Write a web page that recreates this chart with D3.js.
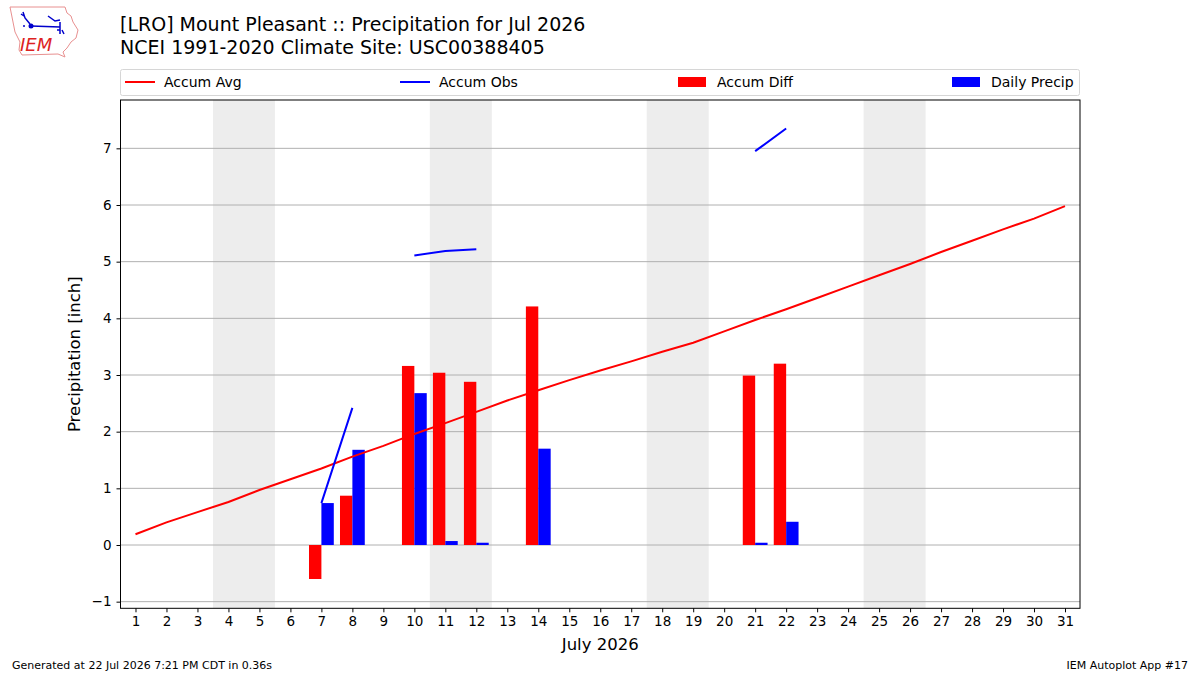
<!DOCTYPE html>
<html><head><meta charset="utf-8">
<script src="https://cdn.jsdelivr.net/npm/d3@7"></script>
<style>body{margin:0;background:#fff;} text{font-family:"DejaVu Sans",sans-serif;}</style>
</head><body><svg id="c" width="1200" height="675"></svg>
<script>
const days = d3.range(1, 32);
const accumAvg = [0.19,0.40,0.58,0.76,0.97,1.16,1.35,1.56,1.75,1.96,2.15,2.35,2.55,2.73,2.91,3.08,3.24,3.41,3.57,3.77,3.97,4.16,4.36,4.56,4.76,4.96,5.17,5.37,5.57,5.76,5.98];
const accumObs = [null,null,null,null,null,null,0.74,2.42,null,5.11,5.19,5.22,null,6.93,null,null,null,null,null,null,6.95,7.35,null,null,null,null,null,null,null,null,null];
const accumDiff = [null,null,null,null,null,null,-0.60,0.87,null,3.16,3.04,2.88,null,4.21,null,null,null,null,null,null,2.99,3.20,null,null,null,null,null,null,null,null,null];
const dailyPrecip = [null,null,null,null,null,null,0.74,1.68,null,2.68,0.07,0.04,null,1.70,null,null,null,null,null,null,0.04,0.41,null,null,null,null,null,null,null,null,null];
const weekends = [[3.5,5.5],[10.5,12.5],[17.5,19.5],[24.5,26.5]];
const yTicks = [-1,0,1,2,3,4,5,6,7];
const titleLines = ["[LRO] Mount Pleasant :: Precipitation for Jul 2026","NCEI 1991-2020 Climate Site: USC00388405"];
const legendItems = [{name:"Accum Avg",type:"line",color:"red"},{name:"Accum Obs",type:"line",color:"blue"},{name:"Accum Diff",type:"rect",color:"red"},{name:"Daily Precip",type:"rect",color:"blue"}];

const svg = d3.select("#c");
const L=120.5, R=1080, T=100, B=608.3;
const x = d3.scaleLinear().domain([0.516,31.484]).range([L,R]);
const y = d3.scaleLinear().domain([-1.117,7.853]).range([B,T]);
const bw = 0.4;

// weekend shading
svg.append("g").selectAll("rect").data(weekends).join("rect")
  .attr("x",d=>x(d[0])).attr("width",d=>x(d[1])-x(d[0]))
  .attr("y",T).attr("height",B-T).attr("fill","#ededed");

// grid
svg.append("g").selectAll("line").data(yTicks).join("line")
  .attr("x1",L).attr("x2",R).attr("y1",d=>y(d)).attr("y2",d=>y(d))
  .attr("stroke","#b0b0b0").attr("stroke-width",1);

// bars
const diffData = days.map((d,i)=>({d,v:accumDiff[i]})).filter(o=>o.v!==null);
svg.append("g").selectAll("rect").data(diffData).join("rect")
  .attr("x",o=>x(o.d-bw)).attr("width",o=>x(o.d)-x(o.d-bw))
  .attr("y",o=>y(Math.max(0,o.v))).attr("height",o=>Math.abs(y(o.v)-y(0)))
  .attr("fill","red");
const pData = days.map((d,i)=>({d,v:dailyPrecip[i]})).filter(o=>o.v!==null);
svg.append("g").selectAll("rect").data(pData).join("rect")
  .attr("x",o=>x(o.d)).attr("width",o=>x(o.d+bw)-x(o.d))
  .attr("y",o=>y(o.v)).attr("height",o=>y(0)-y(o.v))
  .attr("fill","blue");

// lines
const line = d3.line().defined(o=>o.v!==null).x(o=>x(o.d)).y(o=>y(o.v));
svg.append("path").datum(days.map((d,i)=>({d,v:accumAvg[i]})))
  .attr("d",line).attr("fill","none").attr("stroke","red").attr("stroke-width",2);
svg.append("path").datum(days.map((d,i)=>({d,v:accumObs[i]})))
  .attr("d",line).attr("fill","none").attr("stroke","blue").attr("stroke-width",2);

// axes frame
svg.append("rect").attr("x",L).attr("y",T).attr("width",R-L).attr("height",B-T)
  .attr("fill","none").attr("stroke","black").attr("stroke-width",1);

const xa = svg.append("g").attr("transform",`translate(0,${B})`)
  .call(d3.axisBottom(x).tickValues(days).tickFormat(d3.format("d")).tickSize(4).tickPadding(4));
xa.select(".domain").remove();
xa.selectAll("text").attr("font-size",13.5).attr("font-family","DejaVu Sans").attr("fill","#000");
xa.selectAll("line").attr("stroke","#000");

const ya = svg.append("g").attr("transform",`translate(${L},0)`)
  .call(d3.axisLeft(y).tickValues(yTicks).tickFormat(d=>d<0?"\u2212"+Math.abs(d):d).tickSize(4).tickPadding(5));
ya.select(".domain").remove();
ya.selectAll("text").attr("font-size",13.5).attr("font-family","DejaVu Sans").attr("fill","#000");
ya.selectAll("line").attr("stroke","#000");

// axis labels
svg.append("text").attr("x",(L+R)/2).attr("y",650).attr("text-anchor","middle").attr("font-size",16.5).text("July 2026");
svg.append("text").attr("transform",`translate(80,${(T+B)/2}) rotate(-90)`).attr("text-anchor","middle").attr("font-size",16.5).text("Precipitation [inch]");

// title
svg.selectAll(".title").data(titleLines).join("text").attr("class","title")
  .attr("x",120).attr("y",(d,i)=>31+i*23).attr("font-size",19).text(d=>d);

// legend
svg.append("rect").attr("x",120.5).attr("y",69.5).attr("width",959).attr("height",26).attr("rx",2)
  .attr("fill","white").attr("stroke","#d6d6d6");
const legX = [125,400,678,952];
const lg = svg.append("g").selectAll("g").data(legendItems).join("g")
  .attr("transform",(d,i)=>`translate(${legX[i]},82)`);
lg.filter(d=>d.type==="line").append("line").attr("x1",0).attr("x2",30).attr("y1",0).attr("y2",0)
  .attr("stroke",d=>d.color).attr("stroke-width",2);
lg.filter(d=>d.type==="rect").append("rect").attr("x",0).attr("y",-5).attr("width",28).attr("height",10).attr("fill",d=>d.color);
lg.append("text").attr("x",39).attr("y",5).attr("font-size",14).text(d=>d.name);

// footer
svg.append("text").attr("x",12).attr("y",669).attr("font-size",11).text("Generated at 22 Jul 2026 7:21 PM CDT in 0.36s");
svg.append("text").attr("x",1188).attr("y",669).attr("text-anchor","end").attr("font-size",11).text("IEM Autoplot App #17");

// logo
const logo = svg.append("g");
logo.append("path").attr("d","M10,7 L65,7 L67,13 L71,16 L73,22 L78,30 L76,38 L71,42 L67,48 L63,52 L65,57 L58,54 L22,55 L19,50 L20,42 L15,32 L13,22 Z")
  .attr("fill","white").attr("stroke","#e89090").attr("stroke-width",1);
logo.append("path").attr("d","M23,12 L25,18 L30,24 M21,14 L24,16 M31,26 L60,27 M48,16 L55,21 L60,20 M60,22 L60,34 M57,30 L60,30 M62,30 L64,34")
  .attr("fill","none").attr("stroke","#0000cc").attr("stroke-width",1.5);
logo.append("circle").attr("cx",31).attr("cy",26).attr("r",2.5).attr("fill","#0000cc");
logo.append("circle").attr("cx",24).attr("cy",26).attr("r",1).attr("fill","#0000cc");
logo.append("text").attr("x",20).attr("y",51).attr("font-family","Liberation Serif").attr("font-style","italic")
  .attr("font-size",18).attr("fill","#dd2222").text("IEM");
</script></body></html>
